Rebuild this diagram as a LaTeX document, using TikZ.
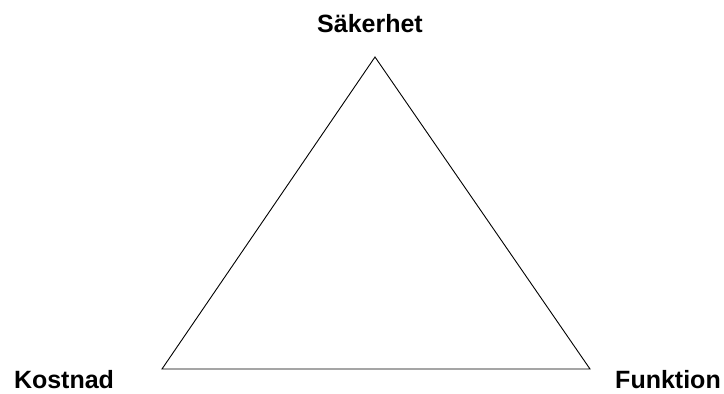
\documentclass[tikz,border=0pt]{standalone}
\usepackage{fontspec}
\setmainfont{Liberation Sans}
\usetikzlibrary{positioning}
\tikzset{
  cornerlabel/.style={font=\fontsize{25}{29}\selectfont\bfseries, inner sep=0pt, anchor=base}
}
\begin{document}
\begin{tikzpicture}[x=1pt,y=1pt]
  \useasboundingbox (0,0) rectangle (724,394);
  % corners of the triangle
  \coordinate (top) at (375,337);
  \coordinate (left) at (162,25);
  \coordinate (right) at (590,25);
  \draw[line width=0.9pt, line join=miter] (top) -- (left) -- (right) -- cycle;
  % labels
  \node[cornerlabel] (sak) at (370,361) {Säkerhet};
  \node[cornerlabel] (kost) at (64,5) {Kostnad};
  \node[cornerlabel] (funk) at (668,5) {Funktion};
\end{tikzpicture}
\end{document}
